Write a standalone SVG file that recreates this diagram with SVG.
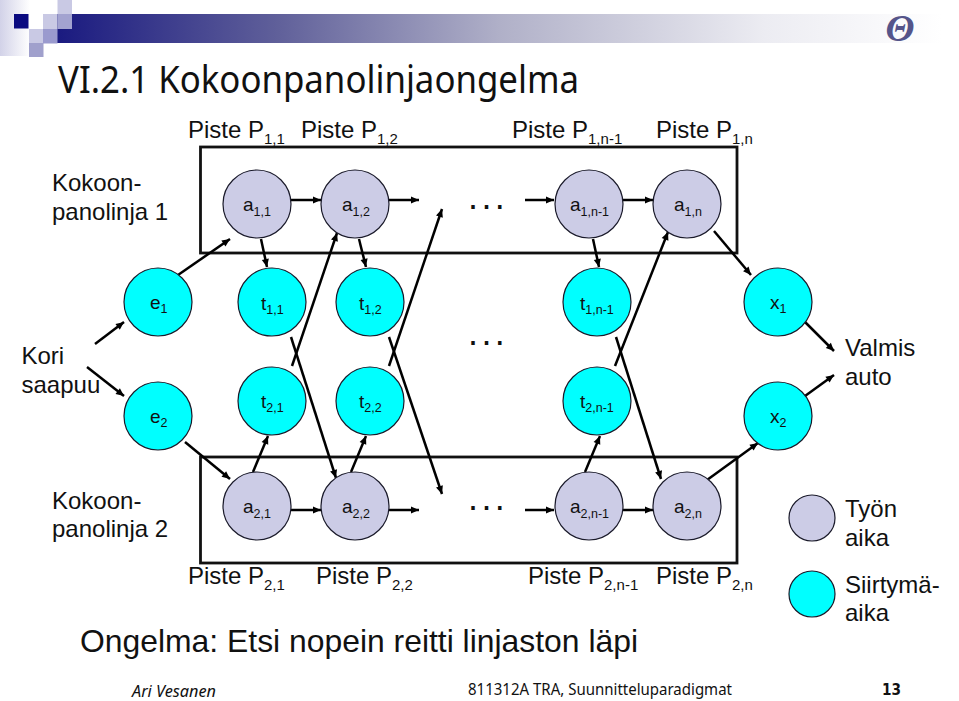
<svg xmlns="http://www.w3.org/2000/svg" width="959" height="701" viewBox="0 0 959 701">
<style>
text{font-family:"Liberation Sans",Arial,sans-serif;fill:#111}
.l{font-size:24px}.ls{font-size:15px}
.n{font-size:19px}.ns{font-size:12.500px}
.w{fill:#ccccE6;stroke:#1a1a2a;stroke-width:1.2}
.c{fill:#00ffff;stroke:#1a1a2a;stroke-width:1.2}
.box{fill:none;stroke:#111;stroke-width:2.8}
.a{fill:none;stroke:#000;stroke-width:2.5;marker-end:url(#h)}
.d{font-size:36px;letter-spacing:3.4px}
</style>
<defs>
<marker id="h" markerUnits="userSpaceOnUse" markerWidth="10" markerHeight="10" refX="8.500" refY="5" orient="auto"><path d="M0.500 1.400L8.500 5L0.500 8.600Z" fill="#000"/></marker>
<linearGradient id="band"><stop offset="0" stop-color="#1a1a80"/><stop offset=".25" stop-color="#60609a"/><stop offset=".5" stop-color="#b0b0c8"/><stop offset=".8" stop-color="#ececf2"/><stop offset="1" stop-color="#fff"/></linearGradient>
<linearGradient id="side"><stop offset="0" stop-color="#d2d2e8"/><stop offset="1" stop-color="#fff"/></linearGradient>
</defs>
<rect width="959" height="701" fill="#fff"/>
<g id="header">
<rect x="0" y="0" width="30" height="56" fill="url(#side)"/>
<rect x="57" y="14" width="885" height="29" fill="url(#band)"/>
<rect x="14" y="14" width="14.500" height="14.500" fill="#0a0a80"/>
<rect x="43" y="14" width="14.500" height="15" fill="#c9c9e4"/>
<rect x="57.500" y="0" width="14.500" height="14" fill="#c9c9e4"/>
<rect x="57.500" y="14" width="14.500" height="15" fill="#a3a3d0"/>
<rect x="29" y="29" width="14.500" height="14.500" fill="#c9c9e4"/>
<rect x="43" y="29" width="14.500" height="14.500" fill="#9a9ace"/>
<rect x="29" y="43" width="14.500" height="14" fill="#a0a0cc"/>
<text x="900" y="41" text-anchor="middle" style="font-family:'Liberation Serif',serif;font-size:38px;font-style:italic;font-weight:bold;fill:#55558a">Θ</text>
</g>
<text id="title" x="58" y="93" textLength="521" lengthAdjust="spacingAndGlyphs" style="font-family:'Noto Sans',sans-serif;font-size:39px">VI.2.1 Kokoonpanolinjaongelma</text>
<g id="lines">
<rect class="box" x="200.500" y="147" width="536.500" height="106"/>
<rect class="box" x="200.500" y="457" width="536.500" height="106"/>
</g>
<g id="connectors">
<path class="a" d="M95 344L124 322"/><path class="a" d="M87 367L124 396"/>
<path class="a" d="M178 275L230 239"/><path class="a" d="M185 442L230 479"/>
<path class="a" d="M291 200L321 200"/><path class="a" d="M389 200L419 200"/><path class="a" d="M525 200L554 200"/><path class="a" d="M623 200L653 200"/>
<path class="a" d="M291 510L321 510"/><path class="a" d="M389 510L419 510"/><path class="a" d="M525 510L554 510"/><path class="a" d="M623 510L653 510"/>
<path class="a" d="M261 239L267 267"/><path class="a" d="M359 239L366 267"/><path class="a" d="M593 239L599 267"/>
<path class="a" d="M714 231L751 275"/>
<path class="a" d="M292 366L337 233"/><path class="a" d="M389 366L442 209"/><path class="a" d="M615 366L668 232"/>
<path class="a" d="M291 337L336 478"/><path class="a" d="M389 337L442 494"/><path class="a" d="M616 337L661 479"/>
<path class="a" d="M253 472L268 436"/><path class="a" d="M351 472L366 436"/><path class="a" d="M585 472L600 436"/>
<path class="a" d="M707 480L758 443"/>
<path class="a" d="M805 322L834 351"/><path class="a" d="M805 396L834 375"/>
</g>
<g id="a11"><circle class="w" cx="257" cy="204" r="34"/><text class="n" x="243" y="211">a<tspan class="ns" dy="5">1,1</tspan></text></g>
<g id="a12"><circle class="w" cx="355" cy="204" r="34"/><text class="n" x="342" y="211">a<tspan class="ns" dy="5">1,2</tspan></text></g>
<g id="a1n1"><circle class="w" cx="589" cy="204" r="34"/><text class="n" x="570" y="211">a<tspan class="ns" dy="5">1,n-1</tspan></text></g>
<g id="a1n"><circle class="w" cx="687" cy="204" r="34"/><text class="n" x="674" y="211">a<tspan class="ns" dy="5">1,n</tspan></text></g>
<g id="e1"><circle class="c" cx="158" cy="302" r="34"/><text class="n" x="150" y="309">e<tspan class="ns" dy="4">1</tspan></text></g>
<g id="t11"><circle class="c" cx="272" cy="302" r="34"/><text class="n" x="261" y="310">t<tspan class="ns" dy="4">1,1</tspan></text></g>
<g id="t12"><circle class="c" cx="370" cy="302" r="34"/><text class="n" x="359" y="310">t<tspan class="ns" dy="4">1,2</tspan></text></g>
<g id="t1n1"><circle class="c" cx="597" cy="302" r="34"/><text class="n" x="580" y="310">t<tspan class="ns" dy="4">1,n-1</tspan></text></g>
<g id="x1"><circle class="c" cx="778" cy="302" r="34"/><text class="n" x="770" y="309">x<tspan class="ns" dy="4">1</tspan></text></g>
<g id="t21"><circle class="c" cx="272" cy="401" r="34"/><text class="n" x="261" y="408">t<tspan class="ns" dy="4">2,1</tspan></text></g>
<g id="t22"><circle class="c" cx="370" cy="401" r="34"/><text class="n" x="359" y="408">t<tspan class="ns" dy="4">2,2</tspan></text></g>
<g id="t2n1"><circle class="c" cx="597" cy="401" r="34"/><text class="n" x="580" y="408">t<tspan class="ns" dy="4">2,n-1</tspan></text></g>
<g id="e2"><circle class="c" cx="158" cy="416" r="34"/><text class="n" x="150" y="423">e<tspan class="ns" dy="4">2</tspan></text></g>
<g id="x2"><circle class="c" cx="778" cy="416" r="34"/><text class="n" x="770" y="423">x<tspan class="ns" dy="4">2</tspan></text></g>
<g id="a21"><circle class="w" cx="257" cy="506" r="34"/><text class="n" x="243" y="513">a<tspan class="ns" dy="5">2,1</tspan></text></g>
<g id="a22"><circle class="w" cx="355" cy="506" r="34"/><text class="n" x="342" y="513">a<tspan class="ns" dy="5">2,2</tspan></text></g>
<g id="a2n1"><circle class="w" cx="589" cy="506" r="34"/><text class="n" x="570" y="513">a<tspan class="ns" dy="5">2,n-1</tspan></text></g>
<g id="a2n"><circle class="w" cx="687" cy="506" r="34"/><text class="n" x="674" y="513">a<tspan class="ns" dy="5">2,n</tspan></text></g>
<g id="labels">
<text class="l" x="188" y="138">Piste P<tspan class="ls" dy="6">1,1</tspan></text>
<text class="l" x="301" y="138">Piste P<tspan class="ls" dy="6">1,2</tspan></text>
<text class="l" x="512" y="138">Piste P<tspan class="ls" dy="6">1,n-1</tspan></text>
<text class="l" x="656" y="138">Piste P<tspan class="ls" dy="6">1,n</tspan></text>
<text class="l" x="188" y="584">Piste P<tspan class="ls" dy="6">2,1</tspan></text>
<text class="l" x="316" y="584">Piste P<tspan class="ls" dy="6">2,2</tspan></text>
<text class="l" x="528" y="584">Piste P<tspan class="ls" dy="6">2,n-1</tspan></text>
<text class="l" x="656" y="584">Piste P<tspan class="ls" dy="6">2,n</tspan></text>
<text class="l" x="52" y="191">Kokoon-</text><text class="l" x="52" y="220">panolinja 1</text>
<text class="l" x="52" y="509">Kokoon-</text><text class="l" x="52" y="537">panolinja 2</text>
<text class="l" x="21.500" y="364">Kori</text><text class="l" x="21.500" y="393">saapuu</text>
<text class="l" x="845" y="356">Valmis</text><text class="l" x="845" y="385">auto</text>
<text class="l" x="845" y="517">Työn</text><text class="l" x="845" y="546">aika</text>
<text class="l" x="845" y="593">Siirtymä-</text><text class="l" x="845" y="621">aika</text>
<text class="d" x="468" y="209">...</text><text class="d" x="468" y="345">...</text><text class="d" x="468" y="510">...</text>
<text x="80" y="652" textLength="558" lengthAdjust="spacingAndGlyphs" style="font-size:32px">Ongelma: Etsi nopein reitti linjaston läpi</text>
</g>
<g id="legend"><circle class="w" cx="812" cy="518" r="23"/><circle class="c" cx="812" cy="594" r="23"/></g>
<g id="footer">
<text x="132" y="697" textLength="84" lengthAdjust="spacingAndGlyphs" style="font-family:'Noto Sans',sans-serif;font-size:16px;font-style:italic">Ari Vesanen</text>
<text x="468" y="695" textLength="264" lengthAdjust="spacingAndGlyphs" style="font-family:'Noto Sans',sans-serif;font-size:16px">811312A TRA, Suunnitteluparadigmat</text>
<text x="882" y="695" textLength="19" lengthAdjust="spacingAndGlyphs" style="font-family:'DejaVu Sans',sans-serif;font-size:15px;font-weight:bold">13</text>
</g>
</svg>
